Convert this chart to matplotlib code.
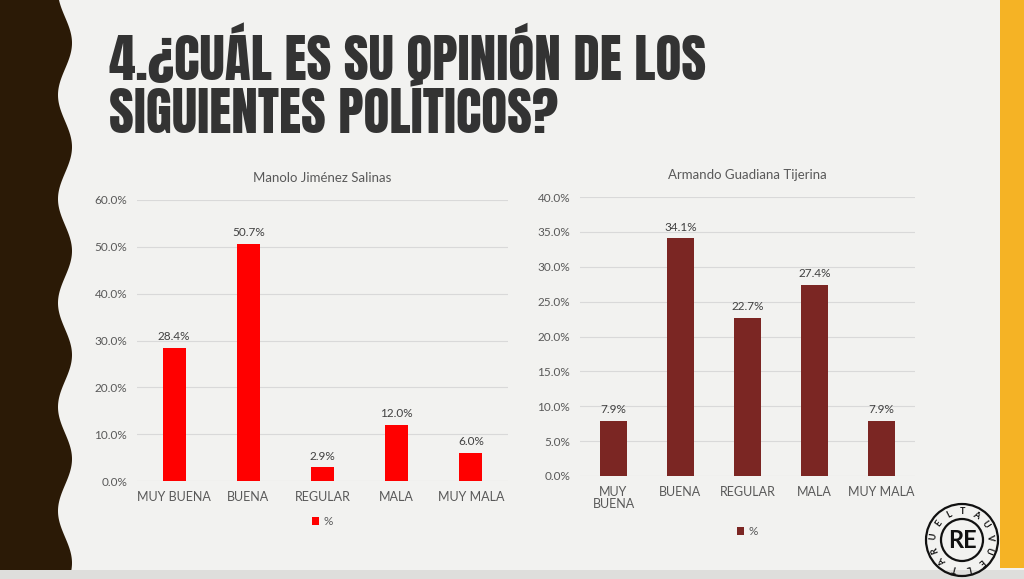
import numpy as np
import matplotlib.pyplot as plt
from matplotlib.patches import Rectangle, Polygon, Circle
from matplotlib import font_manager
from matplotlib.font_manager import FontProperties

categorias = ["MUY BUENA", "BUENA", "REGULAR", "MALA", "MUY MALA"]
categorias_der = ["MUY\nBUENA", "BUENA", "REGULAR", "MALA", "MUY MALA"]
manolo = [28.4, 50.7, 2.9, 12.0, 6.0]
armando = [7.9, 34.1, 22.7, 27.4, 7.9]

titulo = "4.¿CUÁL ES SU OPINIÓN DE LOS\nSIGUIENTES POLÍTICOS?"

# heavy condensed face for the heading, if one is around
prefs = ['anton', 'bebas', 'narrow']
files = [f.fname for f in font_manager.fontManager.ttflist]
cond = None
for p in prefs:
    cands = [fn for fn in files if p in fn.lower().split('/')[-1]
             and 'italic' not in fn.lower() and 'oblique' not in fn.lower()
             and 'sc-' not in fn.lower()]
    if cands:
        bold = [c for c in cands if 'bold' in c.lower()]
        cond = (bold or sorted(cands))[0]
        break
if cond:
    title_fp = FontProperties(fname=cond, size=38.5)
else:
    title_fp = FontProperties(family='DejaVu Sans', weight='bold', size=27)

plt.rcParams['font.family'] = ['Lato', 'DejaVu Sans']

BG = '#f2f2f0'
GRAY = '#595959'

fig = plt.figure(figsize=(10.24, 5.79), dpi=100, facecolor=BG)

# decorations in pixel coords
deco = fig.add_axes([0, 0, 1, 1], zorder=0)
deco.set_xlim(0, 1024)
deco.set_ylim(579, 0)
deco.axis('off')
ys = np.linspace(0, 570, 400)
xe = 65 + 7 * np.cos(2 * np.pi * (ys - 43) / 104)
poly = np.vstack([[0, 0], np.column_stack([xe, ys]), [0, 570]])
deco.add_patch(Polygon(poly, closed=True, color='#2b1a06', lw=0))
deco.add_patch(Rectangle((1000, 0), 24, 568, color='#f5b325', lw=0))
deco.add_patch(Rectangle((0, 570), 1024, 9, color='#dededc', lw=0))

# logo
cx, cy = 962, 540
deco.add_patch(Circle((cx, cy), 36, fill=False, ec='#111111', lw=1.6))
deco.add_patch(Circle((cx, cy), 21, fill=False, ec='#111111', lw=1.6))
deco.text(cx, cy + 1, "RE", ha='center', va='center', fontsize=17, fontweight='bold',
          color='#111111')
ring = "RUELTAUVUELTA"
for i, ch in enumerate(ring):
    ang = np.deg2rad(200 - i * (360 / len(ring)))
    tx = cx + 28.5 * np.cos(ang)
    ty = cy - 28.5 * np.sin(ang)
    deco.text(tx, ty, ch, ha='center', va='center', fontsize=6.5, fontweight='bold',
              rotation=np.rad2deg(ang) - 90, color='#111111')

lineas = titulo.split("\n")
fig.text(109 / 1024, 1 - 80 / 579, lineas[0], fontproperties=title_fp, color='#333333', va='baseline')
fig.text(109 / 1024, 1 - 133 / 579, lineas[1], fontproperties=title_fp, color='#333333', va='baseline')


def chart(rect, vals, labels, color, ymax, step, title, width, leg_y):
    ax = fig.add_axes(rect, zorder=2)
    ax.set_facecolor('none')
    x = np.arange(len(vals))
    ax.bar(x, [v / 100 for v in vals], width=width, color=color, zorder=3, label='%')
    ax.set_xlim(-0.5, len(vals) - 0.5)
    ax.set_ylim(0, ymax)
    ticks = np.arange(0, ymax + 1e-9, step)
    ax.set_yticks(ticks)
    ax.set_yticklabels([f"{t * 100:.1f}%" for t in ticks], color=GRAY, fontsize=8.5)
    ax.set_xticks(x)
    ax.set_xticklabels(labels, color=GRAY, fontsize=9, linespacing=1.0)
    ax.tick_params(length=0, pad=7)
    ax.grid(axis='y', color='#d9d9d9', lw=0.8, zorder=0)
    for s in ax.spines.values():
        s.set_visible(False)
    for xi, v in zip(x, vals):
        ax.annotate(f"{v:.1f}%", (xi, v / 100), xytext=(0, 4), textcoords='offset points',
                    ha='center', va='bottom', fontsize=8.5, color='#404040')
    ax.set_title(title, color=GRAY, fontsize=9.5, pad=13)
    ax.legend(loc='center', bbox_to_anchor=(0.5, leg_y), frameon=False, fontsize=8.5,
              handlelength=0.6, handleheight=0.6, handletextpad=0.4, labelcolor=GRAY)
    return ax


chart([137 / 1024, 1 - 481 / 579, 371 / 1024, 281 / 579], manolo, categorias, '#ff0000',
      0.6, 0.1, "Manolo Jiménez Salinas", 0.31, -0.145)
chart([580 / 1024, 1 - 476 / 579, 335 / 1024, 279 / 579], armando, categorias_der, '#7b2623',
      0.4, 0.05, "Armando Guadiana Tijerina", 0.4, -0.2)

fig.savefig("out.png", dpi=100, facecolor=BG)
